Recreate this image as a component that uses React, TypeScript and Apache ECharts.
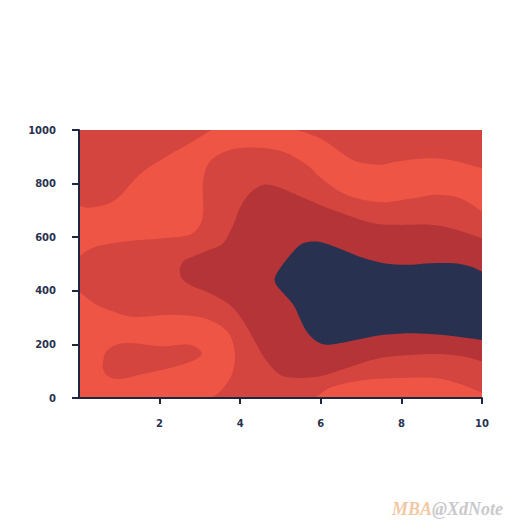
import React, { useEffect, useRef } from "react";
import * as echarts from "echarts";

// Axis ticks
const xTicks = [0, 2, 4, 6, 8, 10];
const yTicks = [0, 200, 400, 600, 800, 1000];

// Contour levels (low -> high)
const levelNames = ["low", "mid", "high", "peak"];

// Contour boundaries, in data units [x, y]
const topLeftMidCurve = [[0, 718], [0.22, 710], [0.68, 722], [1.01, 753], [1.26, 795], [1.59, 845], [2.09, 894], [2.67, 944], [3.16, 988], [3.3, 1000]];
const topLeftMidCorner = [[0, 1000]];

const topRightMidCurve = [[5.4, 1000], [5.98, 969], [6.48, 919], [6.89, 882], [7.47, 870], [7.89, 882], [8.55, 894], [9.21, 888], [10, 857]];
const topRightMidCorner = [[10, 1000]];

const centralMidTop = [[0, 528], [0.43, 565], [1.26, 586], [2.09, 596], [2.75, 609], [3.0, 646], [3.08, 696], [3.08, 807], [3.25, 882], [3.74, 925], [4.41, 934], [5.07, 919], [5.65, 870], [6.06, 814], [6.64, 758], [7.47, 730], [8.3, 745], [8.88, 758], [9.46, 745], [10, 696]];
const centralMidBottomRight = [[10, 19], [9.38, 56], [8.8, 75], [7.97, 75], [7.14, 68], [6.31, 43], [5.9, 6], [5.82, 0]];
const centralMidBottomLeft = [[3.29, 0], [3.54, 31], [3.79, 87], [3.87, 161], [3.74, 236], [3.41, 279], [2.92, 304], [2.25, 311], [1.67, 304], [1.26, 304], [0.85, 323], [0.43, 348], [0.1, 385], [0, 398]];

const bottomLeftMidBlob = [[0.6, 137], [0.68, 174], [0.93, 199], [1.26, 205], [1.67, 199], [2.09, 193], [2.5, 199], [2.83, 196], [3.04, 171], [2.96, 149], [2.67, 130], [2.09, 106], [1.51, 87], [1.01, 71], [0.72, 81], [0.6, 106]];

const highCurve = [[10, 137], [9.54, 155], [8.88, 164], [8.3, 161], [7.47, 149], [6.64, 112], [5.98, 81], [5.4, 75], [4.99, 87], [4.66, 137], [4.41, 199], [4.08, 286], [3.74, 348], [3.25, 391], [2.83, 416], [2.58, 441], [2.5, 472], [2.58, 509], [2.83, 528], [3.25, 553], [3.58, 578], [3.83, 646], [3.99, 708], [4.24, 764], [4.57, 795], [4.9, 789], [5.4, 758], [5.98, 720], [6.64, 683], [7.31, 652], [7.89, 646], [8.72, 646], [9.38, 627], [10, 596]];

const peakCurve = [[10, 217], [9.54, 226], [8.96, 236], [8.3, 242], [7.56, 236], [6.89, 217], [6.23, 199], [5.9, 211], [5.65, 248], [5.48, 298], [5.32, 348], [5.07, 391], [4.9, 422], [4.86, 447], [4.99, 484], [5.32, 547], [5.57, 578], [5.9, 584], [6.23, 571], [6.64, 547], [7.06, 522], [7.56, 503], [8.14, 497], [8.72, 503], [9.3, 503], [9.71, 491], [10, 472]];

const levelColors = ["#ef5545", "#d4453f", "#b43437", "#283150"];

type Pt = number[];
type Region = { level: number; pieces: Pt[][]; closed?: boolean };

const regions: Region[] = [
  { level: 1, pieces: [topLeftMidCurve, topLeftMidCorner] },
  { level: 1, pieces: [topRightMidCurve, topRightMidCorner] },
  { level: 1, pieces: [centralMidTop, centralMidBottomRight, centralMidBottomLeft] },
  { level: 1, pieces: [bottomLeftMidBlob], closed: true },
  { level: 2, pieces: [highCurve] },
  { level: 3, pieces: [peakCurve] },
];

function seg(p0: number[], p1: number[], p2: number[], p3: number[]): string {
  const c1x = p1[0] + (p2[0] - p0[0]) / 6;
  const c1y = p1[1] + (p2[1] - p0[1]) / 6;
  const c2x = p2[0] - (p3[0] - p1[0]) / 6;
  const c2y = p2[1] - (p3[1] - p1[1]) / 6;
  return `C${c1x.toFixed(2)} ${c1y.toFixed(2)} ${c2x.toFixed(2)} ${c2y.toFixed(2)} ${p2[0].toFixed(2)} ${p2[1].toFixed(2)}`;
}

function buildPath(region: Region, coord: (p: Pt) => number[]): string {
  let d = "";
  region.pieces.forEach((piece, pi) => {
    const pts = piece.map((p) => coord(p));
    const n = pts.length;
    d += (pi === 0 ? "M" : "L") + pts[0][0].toFixed(2) + " " + pts[0][1].toFixed(2);
    if (region.closed) {
      for (let i = 0; i < n; i++) {
        d += seg(pts[(i - 1 + n) % n], pts[i], pts[(i + 1) % n], pts[(i + 2) % n]);
      }
    } else {
      for (let i = 0; i < n - 1; i++) {
        d += seg(pts[i - 1] || pts[i], pts[i], pts[i + 1], pts[i + 2] || pts[i + 1]);
      }
    }
  });
  return d + "Z";
}

export default function App() {
  const ref = useRef<HTMLDivElement>(null);
  useEffect(() => {
    if (!ref.current) return;
    const chart = echarts.init(ref.current, null, { renderer: "svg" });
    const axisColor = "#1f2641";
    const labelStyle = {
      color: "#2a3150",
      fontWeight: "bold" as const,
      fontSize: 10,
      fontFamily: "DejaVu Sans",
    };
    chart.setOption({
      animation: false,
      backgroundColor: "#ffffff",
      grid: {
        left: 79,
        right: 50,
        top: 130,
        bottom: 134,
        show: true,
        borderWidth: 0,
        backgroundColor: levelColors[0],
      },
      xAxis: {
        type: "value",
        min: xTicks[0],
        max: xTicks[xTicks.length - 1],
        interval: xTicks[1] - xTicks[0],
        splitLine: { show: false },
        axisLine: { show: true, onZero: false, lineStyle: { color: axisColor, width: 2 } },
        axisTick: { show: true, length: 6, lineStyle: { color: axisColor, width: 2 } },
        axisLabel: { ...labelStyle, margin: 20, showMinLabel: false, formatter: (v: number) => String(v) },
        z: 10,
      },
      yAxis: {
        type: "value",
        min: yTicks[0],
        max: yTicks[yTicks.length - 1],
        interval: yTicks[1] - yTicks[0],
        splitLine: { show: false },
        axisLine: { show: true, onZero: false, lineStyle: { color: axisColor, width: 2 } },
        axisTick: { show: true, length: 7, lineStyle: { color: axisColor, width: 2 } },
        axisLabel: { ...labelStyle, margin: 23, formatter: (v: number) => String(v) },
        z: 10,
      },
      series: [
        {
          type: "custom",
          clip: true,
          data: regions.map((r, i) => ({ value: [0, 0, i], name: levelNames[r.level] })),
          renderItem: (params: any, api: any) => {
            const r = regions[params.dataIndex];
            const d = buildPath(r, (p) => api.coord(p));
            return {
              type: "path",
              shape: { pathData: d },
              style: { fill: levelColors[r.level], stroke: null },
            };
          },
        },
      ],
      graphic: [
        {
          type: "text",
          left: 392,
          top: 500,
          style: {
            text: "{a|MBA}{b|@XdNote}",
            rich: {
              a: {
                fill: "#f2c8a4",
                fontSize: 18,
                fontStyle: "italic",
                fontWeight: "bold",
                fontFamily: "Liberation Serif",
              },
              b: {
                fill: "#c9c9cd",
                fontSize: 18,
                fontStyle: "italic",
                fontWeight: "bold",
                fontFamily: "Liberation Serif",
              },
            },
          },
        },
      ],
    });
    return () => chart.dispose();
  }, []);
  return (
    <div
      ref={ref}
      style={{ position: "fixed", left: 0, top: 0, width: 532, height: 532 }}
    />
  );
}
